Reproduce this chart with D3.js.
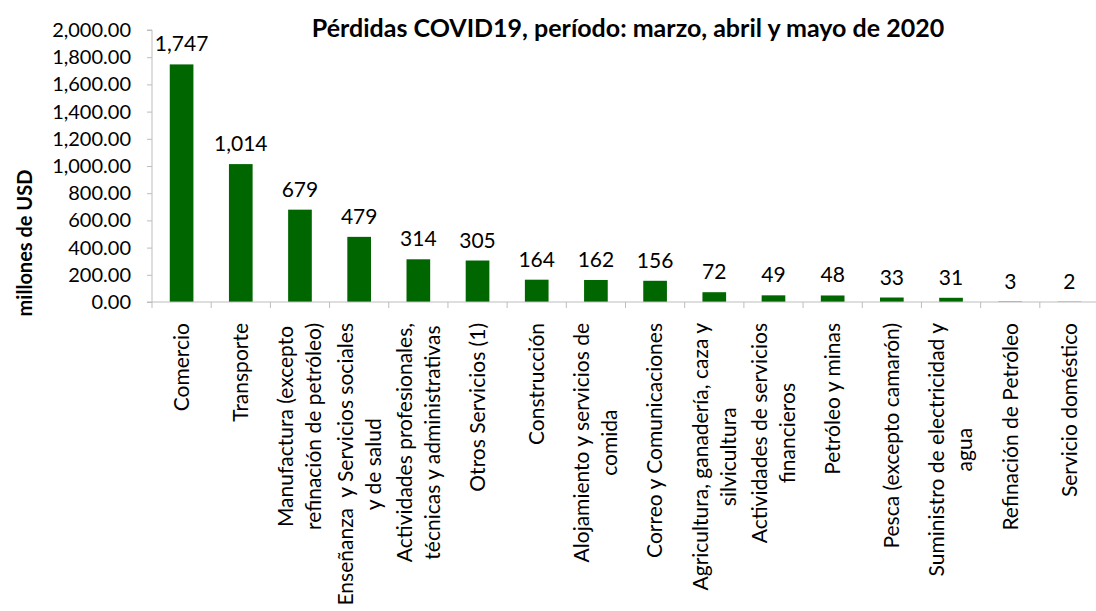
<!DOCTYPE html>
<html>
<head>
<meta charset="utf-8">
<script src="https://cdn.jsdelivr.net/npm/d3@7/dist/d3.min.js"></script>
<style>
  body { margin: 0; background: #fff; }
  text { font-family: Lato, "Open Sans", sans-serif; fill: #000; }
</style>
</head>
<body>
<script>
// data
var categories = [
  ["Comercio"],
  ["Transporte"],
  ["Manufactura (excepto", "refinación de petróleo)"],
  ["Enseñanza  y Servicios sociales", "y de salud"],
  ["Actividades profesionales,", "técnicas y administrativas"],
  ["Otros Servicios (1)"],
  ["Construcción"],
  ["Alojamiento y servicios de", "comida"],
  ["Correo y Comunicaciones"],
  ["Agricultura, ganadería, caza y", "silvicultura"],
  ["Actividades de servicios", "financieros"],
  ["Petróleo y minas"],
  ["Pesca (excepto camarón)"],
  ["Suministro de electricidad y", "agua"],
  ["Refinación de Petróleo"],
  ["Servicio doméstico"]
]
var values = [1747, 1014, 679, 479, 314, 305, 164, 162, 156, 72, 49, 48, 33, 31, 3, 2]
var yTicks = [0, 200, 400, 600, 800, 1000, 1200, 1400, 1600, 1800, 2000]
var title = "Pérdidas COVID19, período: marzo, abril y mayo de 2020"
var yTitle = "millones de USD"

var width = 1096, height = 611
var barColor = "#006600"
var axisColor = "#bdbdbd"

var svg = d3.select("body").append("svg")
  .attr("width", width)
  .attr("height", height)

var ids = d3.range(categories.length)

var x = d3.scaleBand()
  .domain(ids)
  .range([152, 1099])
  .padding(0)

var y = d3.scaleLinear()
  .domain([0, 2000])
  .range([302, 30])

// title
svg.append("text")
  .attr("x", 628)
  .attr("y", 37)
  .attr("text-anchor", "middle")
  .attr("font-size", 25)
  .attr("font-weight", "bold")
  .text(title)

// y title
svg.append("text")
  .attr("transform", "translate(32,243) rotate(-90)")
  .attr("text-anchor", "middle")
  .attr("font-size", 20)
  .attr("font-weight", "bold")
  .text(yTitle)

// y axis
var yAxis = svg.append("g")
  .attr("transform", "translate(152,0)")
  .call(d3.axisLeft(y).tickValues(yTicks).tickFormat(d3.format(",.2f")).tickSize(5).tickPadding(16))
yAxis.select(".domain").attr("stroke", axisColor).attr("d", "M-5," + y(0) + "H0V" + y(2000) + "H-5")
yAxis.selectAll(".tick line").attr("stroke", axisColor)
yAxis.selectAll(".tick text")
  .attr("font-size", 20)
  .attr("font-family", "Lato, sans-serif")
  .attr("fill", "#000")

// bars
var barW = x.bandwidth() * 0.4
svg.append("g").selectAll("rect")
  .data(values)
  .join("rect")
  .attr("x", function(d, i) { return x(i) + (x.bandwidth() - barW) / 2 })
  .attr("y", function(d) { return y(d) })
  .attr("width", barW)
  .attr("height", function(d) { return y(0) - y(d) })
  .attr("fill", barColor)

// value labels
svg.append("g").selectAll("text")
  .data(values)
  .join("text")
  .attr("x", function(d, i) { return x(i) + x.bandwidth() / 2 })
  .attr("y", function(d) { return y(d) - 13 })
  .attr("text-anchor", "middle")
  .attr("font-size", 21)
  .text(d3.format(","))

// x axis line and ticks at band edges
var xg = svg.append("g")
xg.append("line")
  .attr("x1", x.range()[0]).attr("x2", x.range()[1])
  .attr("y1", y(0)).attr("y2", y(0))
  .attr("stroke", axisColor)
xg.selectAll(".xtick")
  .data(d3.range(categories.length + 1))
  .join("line")
  .attr("class", "xtick")
  .attr("x1", function(i) { return x.range()[0] + i * x.step() })
  .attr("x2", function(i) { return x.range()[0] + i * x.step() })
  .attr("y1", y(0)).attr("y2", y(0) + 6)
  .attr("stroke", axisColor)

// category labels, rotated, lines centred in a block that hangs from the axis
var labTop = y(0) + 21
var lineGap = 28
var lab = svg.append("g").selectAll("g")
  .data(categories)
  .join("g")

lab.each(function(lines, i) {
  var g = d3.select(this)
  var cx = x(i) + x.bandwidth() / 2
  var t = g.selectAll("text")
    .data(lines)
    .join("text")
    .attr("font-size", 21)
    .attr("text-anchor", "middle")
    .style("white-space", "pre")
    .attr("dy", "0.35em")
    .text(function(d) { return d })
  var maxW = d3.max(t.nodes(), function(n) { return n.getComputedTextLength() })
  t.attr("transform", function(d, k) {
    var lx = cx + (k - (lines.length - 1) / 2) * lineGap
    return "translate(" + lx + "," + (labTop + maxW / 2) + ") rotate(-90)"
  })
})
</script>
</body>
</html>
